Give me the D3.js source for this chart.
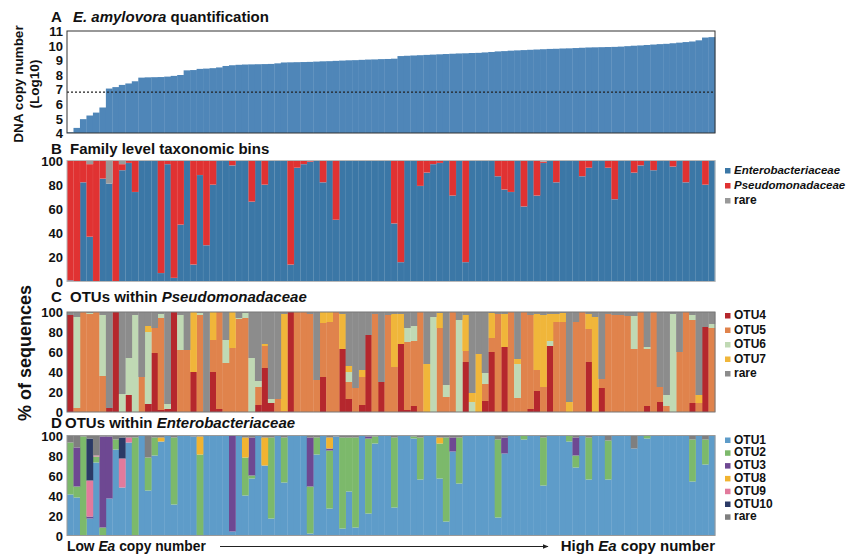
<!DOCTYPE html>
<html>
<head>
<meta charset="utf-8">
<script src="https://cdn.jsdelivr.net/npm/d3@7"></script>
<style>
  body { margin: 0; background: #fff; }
  text { font-family: "Liberation Sans", Arial, sans-serif; font-weight: bold; fill: #111; }
</style>
</head>
<body>
<svg id="chart" width="857" height="556"></svg>
<script>
// samples ranked by E. amylovora copy number (low -> high)
const samples = d3.range(100);

/* PANEL A: log10 DNA copy number */
const eaCopies = [
  4.05, 4.35, 4.95, 5.2, 5.4, 5.75, 7.05, 7.15, 7.3, 7.4,
  7.55, 7.8, 7.82, 7.83, 7.84, 7.87, 7.92, 7.98, 8.3, 8.32,
  8.4, 8.42, 8.45, 8.5, 8.6, 8.65, 8.68, 8.7, 8.71, 8.72,
  8.73, 8.74, 8.78, 8.84, 8.85, 8.86, 8.87, 8.88, 8.9, 8.92,
  8.93, 8.95, 8.97, 8.99, 9.0, 9.02, 9.04, 9.05, 9.07, 9.08,
  9.1, 9.28, 9.3, 9.32, 9.34, 9.36, 9.38, 9.4, 9.42, 9.44,
  9.46, 9.47, 9.49, 9.5, 9.53, 9.56, 9.6, 9.62, 9.65, 9.67,
  9.69, 9.71, 9.73, 9.75, 9.77, 9.78, 9.8, 9.81, 9.83, 9.85,
  9.87, 9.88, 9.89, 9.9, 9.91, 9.93, 9.96, 9.99, 10.01, 10.04,
  10.07, 10.1, 10.12, 10.16, 10.2, 10.24, 10.28, 10.36, 10.55, 10.58
];
const detectionLimit = 6.8;
const ticksA = [4, 5, 6, 7, 8, 9, 10, 11];

/* PANEL B: family level bins (%) */
const famKeys = ["Enterobacteriaceae", "Pseudomonadaceae", "rare"];
const entero = [
  1, 0, 82, 37, 0, 85, 81, 0, 92, 98,
  74, 100, 100, 100, 7, 97, 3, 47, 100, 14,
  88, 30, 80, 100, 100, 96, 100, 100, 66, 100,
  80, 100, 100, 100, 14, 94, 97, 99, 100, 82,
  100, 51, 100, 100, 100, 100, 100, 100, 100, 100,
  48, 16, 100, 100, 79, 90, 97, 98, 100, 71,
  100, 16, 100, 100, 100, 100, 87, 76, 74, 100,
  62, 100, 71, 98, 100, 82, 100, 100, 100, 87,
  94, 100, 100, 94, 68, 100, 100, 90, 96, 100,
  92, 100, 100, 95, 100, 82, 100, 100, 80, 100
];
const pseudo = [
  99, 100, 18, 60, 100, 15, 0, 100, 5, 2,
  26, 0, 0, 0, 93, 3, 97, 53, 0, 86,
  12, 70, 20, 0, 0, 4, 0, 0, 34, 0,
  20, 0, 0, 0, 86, 6, 3, 1, 0, 18,
  0, 49, 0, 0, 0, 0, 0, 0, 0, 0,
  52, 84, 0, 0, 21, 10, 3, 2, 0, 29,
  0, 84, 0, 0, 0, 0, 13, 24, 26, 0,
  38, 0, 29, 1, 0, 18, 0, 0, 0, 13,
  6, 0, 0, 6, 32, 0, 0, 10, 4, 0,
  8, 0, 0, 5, 0, 18, 0, 0, 20, 0
];
const rareFam = [
  0, 0, 0, 3, 0, 0, 19, 0, 3, 0,
  0, 0, 0, 0, 0, 0, 0, 0, 0, 0,
  0, 0, 0, 0, 0, 0, 0, 0, 0, 0,
  0, 0, 0, 0, 0, 0, 0, 0, 0, 0,
  0, 0, 0, 0, 0, 0, 0, 0, 0, 0,
  0, 0, 0, 0, 0, 0, 0, 0, 0, 0,
  0, 0, 0, 0, 0, 0, 0, 0, 0, 0,
  0, 0, 0, 1, 0, 0, 0, 0, 0, 0,
  0, 0, 0, 0, 0, 0, 0, 0, 0, 0,
  0, 0, 0, 0, 0, 0, 0, 0, 0, 0
];

/* PANEL C: OTUs within Pseudomonadaceae (%) */
const pseudoKeys = ["OTU4", "OTU5", "OTU6", "OTU7", "rare"];
const otu4 = [
  97, 0, 0, 0, 0, 0, 4, 100, 0, 17,
  0, 0, 8, 59, 2, 3, 100, 0, 0, 40,
  0, 0, 40, 3, 0, 0, 0, 0, 0, 7,
  44, 9, 0, 0, 100, 0, 0, 0, 0, 35,
  0, 0, 63, 13, 0, 7, 77, 0, 30, 0,
  0, 68, 2, 6, 0, 0, 0, 0, 0, 0,
  0, 50, 0, 0, 11, 60, 0, 65, 0, 0,
  0, 3, 21, 0, 66, 0, 0, 0, 0, 0,
  50, 0, 24, 0, 0, 0, 0, 0, 0, 6,
  0, 10, 0, 0, 0, 0, 9, 0, 85, 0
];
const otu5 = [
  0, 4, 100, 98, 100, 36, 0, 0, 0, 0,
  0, 35, 0, 25, 92, 0, 0, 62, 62, 0,
  97, 0, 32, 97, 49, 64, 93, 94, 0, 18,
  22, 0, 13, 1, 0, 100, 100, 98, 32, 54,
  90, 100, 0, 17, 24, 28, 0, 98, 0, 97,
  45, 0, 68, 65, 100, 0, 0, 84, 15, 100,
  0, 11, 0, 0, 17, 14, 98, 0, 100, 14,
  100, 94, 21, 25, 0, 90, 90, 0, 90, 100,
  33, 0, 9, 98, 97, 97, 96, 63, 100, 57,
  100, 15, 6, 0, 60, 100, 83, 9, 0, 84
];
const otu6 = [
  0, 91, 0, 1, 0, 61, 0, 0, 18, 37,
  97, 0, 72, 0, 4, 5, 0, 35, 0, 0,
  2, 0, 0, 0, 23, 0, 1, 5, 54, 6,
  0, 4, 0, 0, 0, 0, 0, 0, 0, 0,
  0, 0, 0, 10, 0, 0, 0, 0, 0, 0,
  0, 0, 14, 15, 0, 0, 95, 0, 12, 0,
  92, 0, 10, 0, 11, 0, 0, 0, 0, 34,
  0, 0, 0, 0, 5, 0, 0, 0, 0, 0,
  0, 0, 0, 0, 0, 0, 0, 33, 0, 2,
  0, 0, 11, 98, 0, 0, 5, 0, 0, 4
];
const otu7 = [
  0, 0, 0, 0, 0, 0, 0, 0, 0, 0,
  0, 0, 6, 0, 0, 0, 0, 0, 0, 60,
  0, 0, 28, 0, 0, 36, 0, 0, 0, 0,
  2, 0, 0, 97, 0, 0, 0, 0, 0, 11,
  10, 0, 35, 6, 0, 7, 0, 0, 0, 0,
  53, 30, 0, 0, 0, 48, 0, 15, 0, 0,
  0, 36, 9, 58, 0, 25, 0, 33, 0, 5,
  0, 0, 56, 72, 27, 8, 9, 10, 0, 0,
  15, 95, 0, 0, 0, 0, 0, 0, 0, 0,
  0, 0, 0, 0, 0, 0, 0, 8, 0, 0
];
const rarePseudo = [
  3, 5, 0, 1, 0, 3, 96, 0, 82, 46,
  3, 65, 14, 16, 2, 92, 0, 3, 38, 0,
  1, 100, 0, 0, 28, 0, 6, 1, 46, 69,
  32, 87, 87, 2, 0, 0, 0, 2, 68, 0,
  0, 0, 2, 54, 76, 58, 23, 2, 70, 3,
  2, 2, 16, 14, 0, 52, 5, 1, 73, 0,
  8, 3, 81, 42, 61, 1, 2, 2, 0, 47,
  0, 3, 2, 3, 2, 2, 1, 90, 10, 0,
  2, 5, 67, 2, 3, 3, 4, 4, 0, 35,
  0, 75, 83, 2, 40, 0, 3, 83, 15, 12
];

/* PANEL D: OTUs within Enterobacteriaceae (%) */
const enteroKeys = ["OTU1", "OTU2", "OTU3", "OTU8", "OTU9", "OTU10", "rare"];
const otu1 = [
  41, 38, 0, 17, 73, 0, 37, 86, 48, 93,
  0, 100, 45, 80, 94, 100, 31, 100, 100, 99,
  0, 100, 100, 100, 100, 4, 100, 40, 57, 100,
  70, 17, 100, 53, 100, 100, 100, 2, 81, 100,
  27, 99, 7, 44, 8, 100, 22, 92, 100, 100,
  28, 100, 100, 97, 56, 100, 100, 57, 14, 84,
  52, 100, 100, 100, 100, 100, 18, 82, 100, 100,
  96, 100, 100, 50, 100, 100, 100, 94, 68, 100,
  56, 100, 100, 56, 100, 100, 100, 87, 100, 97,
  100, 100, 100, 100, 100, 100, 54, 100, 71, 100
];
const otu2 = [
  52, 11, 99, 0, 6, 8, 0, 10, 0, 0,
  98, 0, 33, 18, 0, 0, 67, 0, 0, 0,
  81, 0, 0, 0, 0, 0, 0, 38, 3, 0,
  0, 81, 0, 45, 0, 0, 0, 47, 17, 0,
  58, 0, 91, 54, 90, 0, 75, 7, 0, 0,
  70, 0, 0, 2, 42, 0, 0, 35, 84, 0,
  46, 0, 0, 0, 0, 0, 78, 0, 0, 0,
  4, 0, 0, 48, 0, 0, 0, 6, 12, 0,
  42, 0, 0, 39, 0, 0, 0, 0, 0, 3,
  0, 0, 0, 0, 0, 0, 42, 0, 25, 0
];
const otu3 = [
  0, 39, 0, 2, 0, 91, 62, 0, 0, 0,
  0, 0, 0, 0, 0, 0, 0, 0, 0, 0,
  0, 0, 0, 0, 0, 96, 0, 0, 38, 0,
  0, 0, 0, 0, 0, 0, 0, 49, 0, 0,
  2, 0, 0, 0, 0, 0, 2, 0, 0, 0,
  0, 0, 0, 0, 0, 0, 0, 0, 0, 14,
  0, 0, 0, 0, 0, 0, 0, 16, 0, 0,
  0, 0, 0, 0, 0, 0, 0, 0, 18, 0,
  0, 0, 0, 0, 0, 0, 0, 0, 0, 0,
  0, 0, 0, 0, 0, 0, 0, 0, 0, 0
];
const otu8 = [
  0, 0, 0, 0, 0, 0, 0, 0, 0, 0,
  0, 0, 0, 0, 4, 0, 0, 0, 0, 0,
  18, 0, 0, 0, 0, 0, 0, 20, 0, 0,
  28, 0, 0, 0, 0, 0, 0, 0, 0, 0,
  11, 0, 0, 0, 0, 0, 0, 0, 0, 0,
  0, 0, 0, 0, 0, 0, 0, 6, 0, 0,
  0, 0, 0, 0, 0, 0, 0, 0, 0, 0,
  0, 0, 0, 0, 0, 0, 0, 0, 0, 0,
  0, 0, 0, 0, 0, 0, 0, 0, 0, 0,
  0, 0, 0, 0, 0, 0, 0, 0, 0, 0
];
const otu9 = [
  0, 0, 0, 36, 1, 0, 0, 0, 29, 5,
  0, 0, 0, 0, 0, 0, 0, 0, 0, 0,
  0, 0, 0, 0, 0, 0, 0, 0, 0, 0,
  0, 0, 0, 0, 0, 0, 0, 0, 0, 0,
  0, 0, 0, 0, 0, 0, 0, 0, 0, 0,
  0, 0, 0, 0, 0, 0, 0, 0, 0, 0,
  0, 0, 0, 0, 0, 0, 0, 0, 0, 0,
  0, 0, 0, 0, 0, 0, 0, 0, 0, 0,
  0, 0, 0, 0, 0, 0, 0, 0, 0, 0,
  0, 0, 0, 0, 0, 0, 0, 0, 0, 0
];
const otu10 = [
  0, 0, 0, 42, 0, 0, 0, 0, 21, 0,
  0, 0, 0, 0, 0, 0, 0, 0, 0, 0,
  0, 0, 0, 0, 0, 0, 0, 0, 0, 0,
  0, 0, 0, 0, 0, 0, 0, 0, 0, 0,
  0, 0, 0, 0, 0, 0, 0, 0, 0, 0,
  0, 0, 0, 0, 0, 0, 0, 0, 0, 0,
  0, 0, 0, 0, 0, 0, 0, 0, 0, 0,
  0, 0, 0, 0, 0, 0, 0, 0, 0, 0,
  0, 0, 0, 0, 0, 0, 0, 0, 0, 0,
  0, 0, 0, 0, 0, 0, 0, 0, 0, 0
];
const rareEntero = [
  7, 12, 1, 3, 20, 1, 1, 4, 2, 2,
  2, 0, 22, 2, 2, 0, 2, 0, 0, 1,
  1, 0, 0, 0, 0, 0, 0, 2, 2, 0,
  2, 2, 0, 2, 0, 0, 0, 2, 2, 0,
  2, 1, 2, 2, 2, 0, 1, 1, 0, 0,
  2, 0, 0, 1, 2, 0, 0, 2, 2, 2,
  2, 0, 0, 0, 0, 0, 4, 2, 0, 0,
  0, 0, 0, 2, 0, 0, 0, 0, 2, 0,
  2, 0, 0, 5, 0, 0, 0, 13, 0, 0,
  0, 0, 0, 0, 0, 0, 4, 0, 4, 0
];
const pctTicks = [0, 20, 40, 60, 80, 100];

/* colours */
const colA = "#4f86b8";
const famColors = { "Enterobacteriaceae": "#3b77a6", "Pseudomonadaceae": "#e03232", "rare": "#999999" };
const pseudoColors = { "OTU4": "#b5272d", "OTU5": "#e0834c", "OTU6": "#c0d9b4", "OTU7": "#f0b63a", "rare": "#8c8c8c" };
const enteroColors = { "OTU1": "#5e9cc9", "OTU2": "#7cb96b", "OTU3": "#6e4892", "OTU8": "#f1b330", "OTU9": "#e27a9c", "OTU10": "#2b3a66", "rare": "#7f7f7f" };

const svg = d3.select("#chart");
const left = 67, right = 715;

const x = d3.scaleBand().domain(samples).range([left, right]).padding(0);

const yA = d3.scaleLinear().domain([4, 11]).range([133, 31]);
const yB = d3.scaleLinear().domain([0, 100]).range([281.5, 160.5]);
const yC = d3.scaleLinear().domain([0, 100]).range([412, 312]);
const yD = d3.scaleLinear().domain([0, 100]).range([535.5, 435.5]);

/* FUNCTIONS TO DRAW */
function drawAxis(y, ticks) {
  const g = svg.append("g")
    .attr("transform", "translate(" + left + ",0)")
    .call(d3.axisLeft(y).tickValues(ticks).tickFormat(d3.format("d")).tickSize(0).tickPadding(4));
  g.select(".domain").remove();
  g.selectAll("text")
    .attr("dy", "0.36em")
    .style("font-family", "Liberation Sans, Arial, sans-serif")
    .style("font-weight", "bold")
    .style("font-size", "13px")
    .style("fill", "#111");
}

function drawFrame(y, stroke) {
  svg.append("rect")
    .attr("x", left)
    .attr("y", y.range()[1])
    .attr("width", right - left)
    .attr("height", y.range()[0] - y.range()[1])
    .attr("fill", "none")
    .attr("stroke", stroke)
    .attr("stroke-width", 1);
}

function drawStack(y, keys, series, colors, edge) {
  let rows = samples.map(function(s, i) {
    let r = { sample: s };
    keys.forEach(function(k, j) { r[k] = series[j][i]; });
    return r;
  });
  let stacked = d3.stack().keys(keys)(rows);
  let clip = v => Math.min(100, v);
  svg.append("g").selectAll("g")
    .data(stacked)
    .join("g")
    .attr("fill", d => colors[d.key])
    .selectAll("rect")
    .data(d => d)
    .join("rect")
    .attr("x", d => x(d.data.sample))
    .attr("width", x.bandwidth() + 0.3)
    .attr("y", d => y(clip(d[1])))
    .attr("height", d => Math.max(0, y(clip(d[0])) - y(clip(d[1]))))
    .attr("stroke", edge || "none")
    .attr("stroke-width", 0.5);
}

function addTitle(y, letter, textX, parts) {
  svg.append("text")
    .attr("x", 51)
    .attr("y", y)
    .style("font-size", "15px")
    .text(letter);
  let t = svg.append("text")
    .attr("x", textX)
    .attr("y", y)
    .style("font-size", "15px");
  for (var p of parts) {
    t.append("tspan")
      .style("font-style", p.italic ? "italic" : "normal")
      .text(p.text);
  }
}

function addLegend(x0, y0, step, keys, colors, italic) {
  keys.forEach(function(k, i) {
    svg.append("rect")
      .attr("x", x0)
      .attr("y", y0 + step * i - 5)
      .attr("width", 5.5)
      .attr("height", 5.5)
      .attr("fill", colors[k]);
    svg.append("text")
      .attr("x", x0 + 9)
      .attr("y", y0 + step * i + 1)
      .style("font-size", italic && k !== "rare" ? "11.5px" : "12px")
      .style("font-style", italic && k !== "rare" ? "italic" : "normal")
      .text(k);
  });
}

/* PANEL A */
addTitle(21.5, "A", 73, [{ text: "E. amylovora", italic: true }, { text: " quantification" }]);
svg.append("g").selectAll("rect")
  .data(samples)
  .join("rect")
  .attr("x", d => x(d))
  .attr("width", x.bandwidth() + 0.3)
  .attr("y", d => yA(eaCopies[d]))
  .attr("height", d => yA(4) - yA(eaCopies[d]))
  .attr("fill", colA);
svg.append("line")
  .attr("x1", left).attr("x2", right)
  .attr("y1", yA(detectionLimit)).attr("y2", yA(detectionLimit))
  .attr("stroke", "#222")
  .attr("stroke-width", 1.2)
  .attr("stroke-dasharray", "2,2");
drawFrame(yA, "#333");
drawAxis(yA, ticksA);
svg.append("text")
  .attr("transform", "translate(23," + 84 + ") rotate(-90)")
  .attr("text-anchor", "middle")
  .style("font-size", "13.5px")
  .text("DNA copy number");
svg.append("text")
  .attr("transform", "translate(39," + 84 + ") rotate(-90)")
  .attr("text-anchor", "middle")
  .style("font-size", "13.5px")
  .text("(Log10)");

/* PANEL B */
addTitle(153.5, "B", 70, [{ text: "Family level taxonomic bins" }]);
drawStack(yB, famKeys, [entero, pseudo, rareFam], famColors, "rgba(255,255,255,0.12)");
drawFrame(yB, "#b8b8b8");
drawAxis(yB, pctTicks);
addLegend(725, 173, 15, famKeys, famColors, true);

/* PANEL C */
addTitle(302, "C", 70, [{ text: "OTUs within " }, { text: "Pseudomonadaceae", italic: true }]);
drawStack(yC, pseudoKeys, [otu4, otu5, otu6, otu7, rarePseudo], pseudoColors);
drawFrame(yC, "#777");
drawAxis(yC, pctTicks);
addLegend(725, 318, 14.5, pseudoKeys, pseudoColors, false);

svg.append("text")
  .attr("transform", "translate(31,353) rotate(-90)")
  .attr("text-anchor", "middle")
  .style("font-size", "18px")
  .text("% of sequences");

/* PANEL D */
addTitle(428, "D", 65, [{ text: "OTUs within " }, { text: "Enterobacteriaceae", italic: true }]);
drawStack(yD, enteroKeys, [otu1, otu2, otu3, otu8, otu9, otu10, rareEntero], enteroColors);
drawFrame(yD, "#999");
drawAxis(yD, pctTicks);
addLegend(725, 442.5, 12.8, enteroKeys, enteroColors, false);

/* bottom direction labels */
let low = svg.append("text").attr("x", left).attr("y", 551).style("font-size", "13.8px");
low.append("tspan").text("Low ");
low.append("tspan").style("font-style", "italic").text("Ea");
low.append("tspan").text(" copy number");
let high = svg.append("text").attr("x", right).attr("y", 551).attr("text-anchor", "end").style("font-size", "15px");
high.append("tspan").text("High ");
high.append("tspan").style("font-style", "italic").text("Ea");
high.append("tspan").text(" copy number");

svg.append("defs").append("marker")
  .attr("id", "arrow")
  .attr("viewBox", "0 0 10 10")
  .attr("refX", 9).attr("refY", 5)
  .attr("markerWidth", 6).attr("markerHeight", 6)
  .attr("orient", "auto")
  .append("path")
  .attr("d", "M0,1 L10,5 L0,9 z")
  .attr("fill", "#222");
svg.append("line")
  .attr("x1", 220).attr("x2", 548)
  .attr("y1", 546.5).attr("y2", 546.5)
  .attr("stroke", "#222")
  .attr("stroke-width", 1)
  .attr("marker-end", "url(#arrow)");
</script>
</body>
</html>
